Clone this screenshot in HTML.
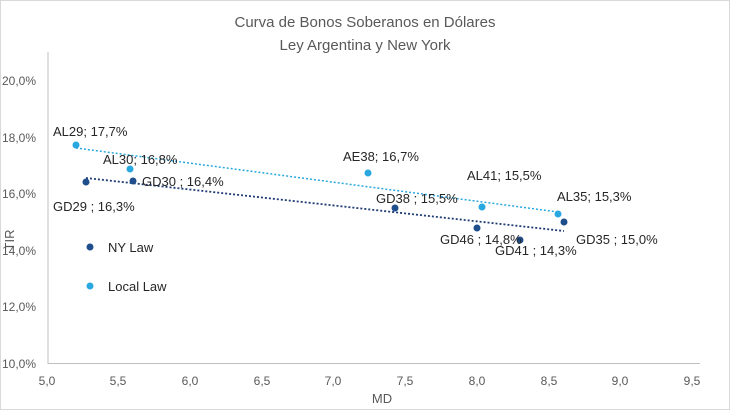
<!DOCTYPE html>
<html><head><style>
body{margin:0;background:#fff;}
svg{display:block;font-family:"Liberation Sans",sans-serif;}
</style></head><body>
<svg width="730" height="410" viewBox="0 0 730 410">
<rect x="0.5" y="0.5" width="729" height="409" fill="#fff" stroke="#d9d9d9"/>
<g fill="#595959" font-size="15" text-anchor="middle">
<text x="365" y="27">Curva de Bonos Soberanos en Dólares</text>
<text x="365" y="50">Ley Argentina y New York</text>
</g>
<line x1="48" y1="52" x2="48" y2="364" stroke="#bfbfbf"/>
<line x1="48" y1="363.5" x2="700" y2="363.5" stroke="#bfbfbf"/>
<g fill="#595959" font-size="12" text-anchor="end">
<text x="36" y="85">20,0%</text><text x="36" y="142">18,0%</text><text x="36" y="198">16,0%</text>
<text x="36" y="255">14,0%</text><text x="36" y="311">12,0%</text><text x="36" y="368">10,0%</text>
</g>
<g fill="#595959" font-size="12" text-anchor="middle">
<text x="47" y="385">5,0</text><text x="118" y="385">5,5</text><text x="190" y="385">6,0</text>
<text x="262" y="385">6,5</text><text x="333" y="385">7,0</text><text x="405" y="385">7,5</text>
<text x="477" y="385">8,0</text><text x="549" y="385">8,5</text><text x="620" y="385">9,0</text>
<text x="692" y="385">9,5</text>
<text x="382" y="403" font-size="13">MD</text>
<text transform="translate(14,240) rotate(-90)" font-size="13">TIR</text>
</g>
<line x1="76" y1="148" x2="558" y2="212" stroke="#29a8e0" stroke-dasharray="2,2" stroke-width="1.5"/>
<line x1="86" y1="178" x2="564" y2="231" stroke="#1f3c73" stroke-dasharray="2,2" stroke-width="1.8"/>
<g fill="#29a8e0">
<circle cx="76" cy="145" r="3.5"/><circle cx="130" cy="169" r="3.5"/><circle cx="368" cy="173" r="3.5"/>
<circle cx="482" cy="207" r="3.5"/><circle cx="558" cy="214" r="3.5"/><circle cx="90" cy="286" r="3.5"/>
</g>
<g fill="#1f4e8c">
<circle cx="86" cy="182" r="3.5"/><circle cx="133" cy="181" r="3.5"/><circle cx="395" cy="208" r="3.5"/>
<circle cx="564" cy="222" r="3.5"/><circle cx="477" cy="228" r="3.5"/><circle cx="520" cy="240" r="3.5"/>
<circle cx="90" cy="247" r="3.5"/>
</g>
<g fill="#262626" font-size="13">
<text x="53" y="136">AL29; 17,7%</text>
<text x="103" y="164">AL30; 16,8%</text>
<text x="142" y="186">GD30 ; 16,4%</text>
<text x="53" y="211">GD29 ; 16,3%</text>
<text x="343" y="161">AE38; 16,7%</text>
<text x="376" y="203">GD38 ; 15,5%</text>
<text x="467" y="180">AL41; 15,5%</text>
<text x="557" y="201">AL35; 15,3%</text>
<text x="440" y="244">GD46 ; 14,8%</text>
<text x="495" y="255">GD41 ; 14,3%</text>
<text x="576" y="244">GD35 ; 15,0%</text>
<text x="108" y="252">NY Law</text>
<text x="108" y="291">Local Law</text>
</g>
</svg>
</body></html>
